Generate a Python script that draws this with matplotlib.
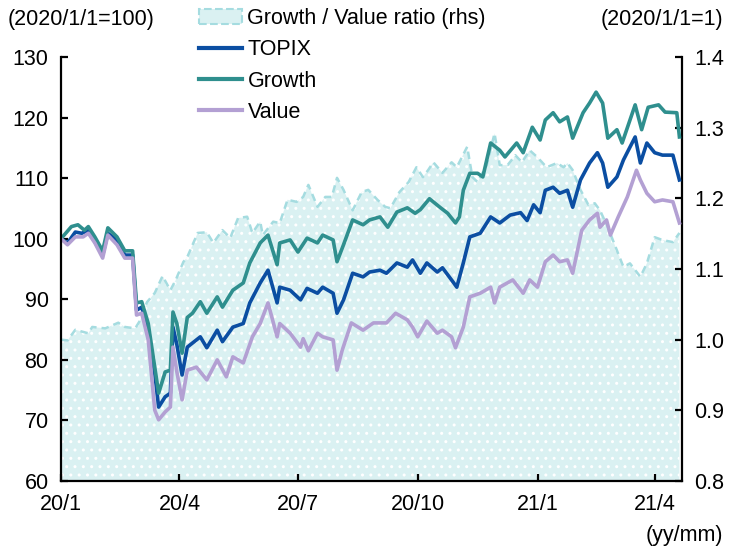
import pandas as pd
import matplotlib.pyplot as plt
import matplotlib.patches as mpatches
from matplotlib.lines import Line2D

plt.rcParams["font.family"] = ["Liberation Sans", "DejaVu Sans"]
plt.rcParams["font.size"] = 15.5

# Data (days since 2020/1/1, index level)
topix_days = [0, 5, 11, 16, 21, 26, 32, 36, 43, 49, 55, 58, 62, 67, 72, 75, 80, 84, 86, 89,
              93, 97, 107, 112, 120, 124, 132, 140, 145, 153, 159, 166, 168, 176, 184, 189,
              197, 201, 209, 212, 217, 224, 232, 237, 245, 250, 258, 266, 270, 276, 281, 289,
              293, 301, 304, 309, 314, 322, 330, 337, 345, 353, 358, 363, 368, 372, 378, 383,
              389, 393, 399, 406, 412, 416, 420, 427, 432, 441, 445, 450, 456, 462, 470, 475]
topix = [100, 99.3, 101.1, 100.9, 101.4, 99.5, 97.3, 100.9, 99.8, 97.3, 97.3, 88.2, 88.7, 84.9,
         77.8, 72.2, 73.9, 74.5, 85.4, 82.5, 77.5, 82.1, 83.8, 82.0, 84.9, 83.0, 85.4, 86.0,
         89.4, 92.7, 94.8, 89.4, 92.0, 91.5, 89.9, 91.8, 91.0, 92.0, 91.0, 87.7, 89.9, 94.3,
         93.7, 94.5, 94.8, 94.3, 96.0, 95.3, 96.5, 94.3, 96.0, 94.5, 95.2, 92.9, 92.0, 96.0,
         100.3, 100.9, 103.6, 102.6, 103.9, 104.3, 103.0, 105.6, 104.3, 108.0, 108.5, 107.5,
         108.0, 105.2, 109.7, 112.5, 114.2, 112.5, 108.5, 110.2, 113.0, 116.8, 112.5, 115.8,
         114.2, 113.8, 113.8, 109.7]

growth_days = [0, 8, 13, 18, 21, 26, 32, 36, 43, 49, 55, 58, 62, 67, 72, 75, 80, 84, 86, 89,
               93, 97, 101, 107, 112, 120, 124, 132, 140, 145, 153, 159, 166, 168, 176, 182,
               189, 197, 201, 209, 212, 217, 224, 232, 237, 245, 251, 258, 266, 272, 276, 283,
               291, 297, 303, 306, 309, 314, 320, 324, 330, 337, 341, 350, 355, 362, 368, 372,
               378, 383, 389, 393, 401, 406, 411, 416, 420, 427, 431, 441, 446, 451, 459, 464,
               473, 475]
growth = [100, 102.0, 102.3, 101.4, 102.0, 100.3, 98.0, 101.8, 100.3, 98.0, 98.0, 89.4, 89.6,
          86.0, 78.8, 74.5, 78.0, 78.3, 87.9, 86.0, 81.1, 87.0, 87.7, 89.6, 87.7, 90.4, 88.7,
          91.5, 92.7, 96.0, 99.3, 100.6, 95.7, 99.3, 99.8, 97.8, 100.1, 99.3, 100.6, 99.8,
          96.2, 99.0, 103.1, 102.3, 103.1, 103.6, 101.9, 104.4, 105.1, 104.2, 104.8, 106.6,
          105.2, 104.2, 102.6, 103.6, 108.0, 110.8, 110.8, 110.2, 115.8, 114.6, 113.5, 115.8,
          114.2, 118.4, 116.3, 119.6, 120.8, 119.3, 120.1, 116.6, 120.8, 122.4, 124.2, 122.4,
          116.6, 118.0, 115.8, 122.1, 118.0, 121.7, 122.1, 120.9, 120.8, 116.8]

value_days = [0, 5, 11, 17, 21, 26, 32, 36, 43, 49, 55, 58, 62, 67, 72, 75, 80, 84, 86, 89,
              93, 97, 104, 112, 120, 127, 132, 140, 147, 153, 159, 166, 168, 176, 184, 186,
              190, 197, 201, 209, 212, 216, 223, 232, 240, 250, 257, 266, 270, 274, 281, 289,
              293, 300, 303, 309, 314, 322, 330, 333, 337, 347, 355, 360, 366, 372, 378, 383,
              389, 393, 400, 406, 412, 414, 419, 422, 428, 435, 442, 445, 450, 456, 462, 470,
              475]
value = [100, 99.0, 100.3, 100.3, 100.9, 99.3, 96.8, 100.6, 99.0, 96.8, 96.8, 87.4, 87.7,
         83.3, 71.7, 70.1, 71.4, 72.2, 82.1, 78.0, 73.4, 78.3, 78.8, 76.7, 80.0, 77.2, 80.5,
         79.5, 83.8, 86.0, 89.4, 83.8, 86.0, 84.4, 82.1, 83.5, 81.5, 84.4, 83.8, 83.3, 78.3,
         81.6, 86.1, 84.9, 86.1, 86.1, 87.7, 86.6, 85.4, 83.8, 86.4, 84.4, 84.9, 83.8, 82.0,
         85.4, 90.4, 91.0, 92.0, 89.4, 92.0, 93.2, 91.0, 93.2, 92.0, 96.2, 97.3, 96.2, 96.5,
         94.3, 101.4, 103.1, 104.2, 101.9, 103.1, 100.6, 103.6, 106.9, 111.3, 109.7, 107.5,
         106.1, 106.4, 106.1, 102.6]

ratio_days = [0, 5, 11, 21, 24, 34, 44, 49, 57, 61, 66, 72, 78, 84, 88, 94, 97, 105, 112, 117,
              124, 130, 136, 143, 147, 153, 155, 163, 168, 174, 181, 186, 190, 197, 203, 208,
              212, 217, 224, 231, 236, 243, 249, 253, 260, 267, 273, 278, 282, 286, 293, 300,
              304, 312, 316, 320, 327, 333, 337, 343, 349, 354, 360, 366, 373, 381, 386, 389,
              393, 399, 405, 410, 414, 420, 426, 432, 437, 445, 450, 456, 462, 470, 475]
ratio = [1.0, 0.999, 1.014, 1.009, 1.018, 1.016, 1.024, 1.018, 1.016, 1.028, 1.053, 1.066,
         1.09, 1.07, 1.084, 1.11, 1.117, 1.151, 1.152, 1.137, 1.155, 1.144, 1.172, 1.174,
         1.151, 1.167, 1.148, 1.167, 1.165, 1.198, 1.195, 1.202, 1.219, 1.188, 1.202, 1.202,
         1.229, 1.212, 1.183, 1.209, 1.212, 1.198, 1.188, 1.186, 1.209, 1.223, 1.244, 1.23,
         1.24, 1.251, 1.236, 1.251, 1.244, 1.273, 1.23, 1.223, 1.247, 1.292, 1.247, 1.247,
         1.261, 1.251, 1.268, 1.258, 1.244, 1.25, 1.244, 1.25, 1.24, 1.212, 1.191, 1.193,
         1.183, 1.159, 1.131, 1.103, 1.108, 1.089, 1.108, 1.145, 1.141, 1.138, 1.151]

tick_dates = ["2020-01-01", "2020-04-01", "2020-07-01", "2020-10-01", "2021-01-01", "2021-04-01"]
tick_labels = ["20/1", "20/4", "20/7", "20/10", "21/1", "21/4"]

start = pd.Timestamp("2020-01-01")


def to_dates(days):
    return start + pd.to_timedelta(days, unit="D")


c_topix = "#0b4ea2"
c_growth = "#2f8f8e"
c_value = "#b3a0d3"
c_ratio_edge = "#a5dce0"
c_ratio_fill = "#daf1f2"

fig = plt.figure(figsize=(7.31, 5.47), dpi=100)
ax = fig.add_axes([61 / 731, 1 - 481 / 547, (681.5 - 61) / 731, (481 - 57) / 547])
ax2 = ax.twinx()

# ratio area on the right axis, behind the lines
rx = to_dates(ratio_days)
ax2.fill_between(rx, 0.8, ratio, facecolor=c_ratio_fill, edgecolor="white",
                 hatch="..", linewidth=0)
ax2.plot(rx, ratio, color=c_ratio_edge, lw=1.8, ls=(0, (3, 2)))
ax2.set_ylim(0.8, 1.4)
ax2.set_yticks([0.8, 0.9, 1.0, 1.1, 1.2, 1.3, 1.4])
ax2.set_yticklabels(["0.8", "0.9", "1.0", "1.1", "1.2", "1.3", "1.4"])

ax.set_zorder(ax2.get_zorder() + 1)
ax.patch.set_visible(False)

ax.plot(to_dates(topix_days), topix, color=c_topix, lw=2.6)
ax.plot(to_dates(growth_days), growth, color=c_growth, lw=2.6)
ax.plot(to_dates(value_days), value, color=c_value, lw=2.6)

ax.set_ylim(60, 130)
ax.set_yticks(range(60, 131, 10))
ax.set_xlim(start, start + pd.Timedelta(days=476.6))
ax.set_xticks(pd.to_datetime(tick_dates))
ax.set_xticklabels(tick_labels)

for a in (ax, ax2):
    a.spines["top"].set_visible(False)
    for s in ("left", "right", "bottom"):
        a.spines[s].set_linewidth(1.6)
    a.tick_params(direction="in", length=5, width=1.6, labelsize=15.5, pad=9)
ax2.spines["left"].set_visible(False)
ax2.spines["bottom"].set_visible(False)
ax.spines["right"].set_visible(False)

fig.text(8 / 731, 1 - 19 / 547, "(2020/1/1=100)", ha="left", va="center", fontsize=15.5)
fig.text(723 / 731, 1 - 19 / 547, "(2020/1/1=1)", ha="right", va="center", fontsize=15.5)
fig.text(723 / 731, 1 - 535 / 547, "(yy/mm)", ha="right", va="center", fontsize=15.5)

handles = [
    mpatches.Patch(facecolor=c_ratio_fill, edgecolor=c_ratio_edge, linestyle="--", linewidth=1.5),
    Line2D([], [], color=c_topix, lw=3),
    Line2D([], [], color=c_growth, lw=3),
    Line2D([], [], color=c_value, lw=3),
]
labels = ["Growth / Value ratio (rhs)", "TOPIX", "Growth", "Value"]
fig.legend(handles, labels, loc="upper left", bbox_to_anchor=(199 / 731, 1 - 8 / 547),
           frameon=False, fontsize=15.5, handlelength=2.0, handletextpad=0.25,
           labelspacing=0.48, borderpad=0, borderaxespad=0)

fig.savefig("out.png", dpi=100)
